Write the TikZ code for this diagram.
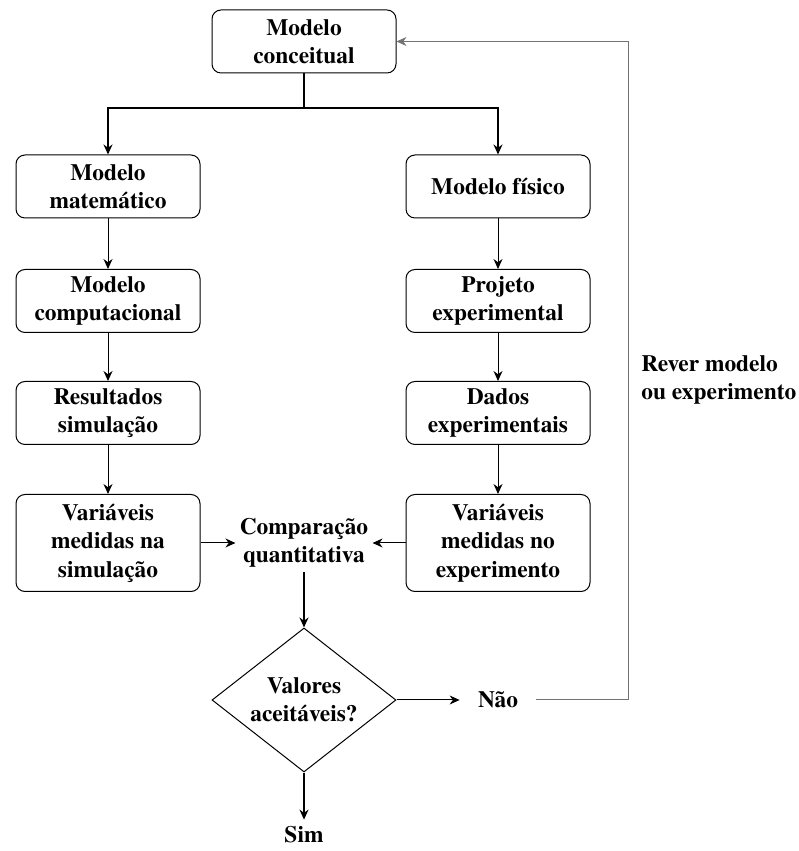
\documentclass[tikz,border=0pt]{standalone}
\usepackage{fontspec}
\setmainfont{texgyretermes}[Extension=.otf, UprightFont=*-regular, BoldFont=*-bold]
\usetikzlibrary{arrows.meta}
\usetikzlibrary{shapes.geometric}

\begin{document}
\begin{tikzpicture}[x=0.5pt, y=0.5pt,
    every node/.style={font=\fontsize{11.7}{14.2}\selectfont\bfseries, align=center},
    caixa/.style={draw, rounded corners=4.5pt, minimum width=92pt, minimum height=31.5pt, line width=0.5pt},
    caixaalta/.style={caixa, minimum height=48.5pt},
    seta/.style={-{Stealth[length=5pt, width=4.5pt]}, line width=0.5pt},
    setagrossa/.style={seta, line width=0.7pt}]
    \useasboundingbox (0,0) rectangle (798,851);

    % caixas
    \node[caixa] (conceitual) at (304,809.5) {Modelo\\conceitual};
    \node[caixa] (matematico) at (108,664.5) {Modelo\\matemático};
    \node[caixa] (fisico) at (498,664.5) {Modelo físico};
    \node[caixa] (computacional) at (108,550) {Modelo\\computacional};
    \node[caixa] (projeto) at (498,550) {Projeto\\experimental};
    \node[caixa] (resultados) at (108,438) {Resultados\\simulação};
    \node[caixa] (dados) at (498,438) {Dados\\experimentais};
    \node[caixaalta] (varsim) at (108,308) {Variáveis\\medidas na\\simulação};
    \node[caixaalta] (varexp) at (498,308) {Variáveis\\medidas no\\experimento};

    \node[inner sep=2pt] (comparacao) at (304,308) {Comparação\\quantitativa};
    \node[draw, diamond, aspect=1.28, inner sep=0pt, minimum width=92pt, minimum height=72pt, line width=0.5pt]
    (valores) at (304,151) {Valores\\aceitáveis?};
    \node[inner xsep=9pt] (nao) at (498,151) {Não};
    \node (sim) at (304,16) {Sim};
    \node[anchor=west, align=left, inner sep=0pt] (rever) at (641,471) {Rever modelo\\ou experimento};

    \coordinate (divide) at (304,743);
    \coordinate (volta) at (628,151);

    % ligacoes
    \draw[line width=0.7pt] (conceitual) -- (divide);
    \draw[setagrossa] (divide) -| (matematico);
    \draw[setagrossa] (divide) -| (fisico);
    \draw[seta] (matematico) -- (computacional);
    \draw[seta] (computacional) -- (resultados);
    \draw[seta] (resultados) -- (varsim);
    \draw[seta] (fisico) -- (projeto);
    \draw[seta] (projeto) -- (dados);
    \draw[seta] (dados) -- (varexp);
    \draw[seta] (varsim) -- (comparacao);
    \draw[seta] (varexp) -- (comparacao);
    \draw[setagrossa] (comparacao) -- (valores);
    \draw[seta] (valores) -- (nao);
    \draw[setagrossa] (valores) -- (sim);
    \draw[seta, black!55] (nao) -- (volta) |- (conceitual);
\end{tikzpicture}
\end{document}
